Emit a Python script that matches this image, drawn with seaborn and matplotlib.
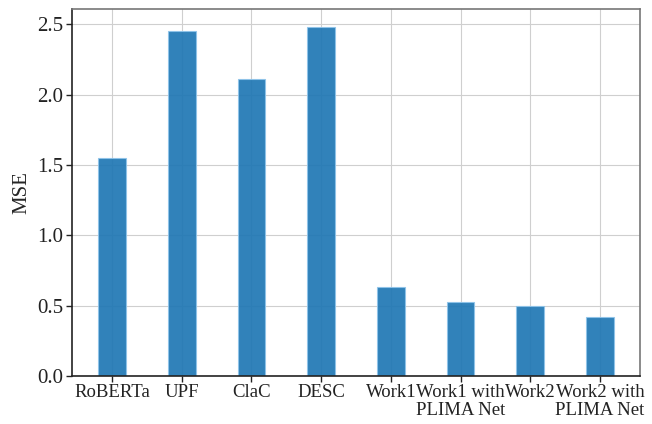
import pandas as pd
import matplotlib
matplotlib.use('Agg')
import matplotlib.pyplot as plt
import seaborn as sns

models = ['RoBERTa', 'UPF', 'ClaC', 'DESC', 'Work1', 'Work1 with\nPLIMA Net',
          'Work2', 'Work2 with\nPLIMA Net']
mse = [1.55, 2.455, 2.115, 2.48, 0.63, 0.53, 0.50, 0.42]

sns.set_theme(style='whitegrid')
plt.rcParams['font.family'] = ['Liberation Serif', 'DejaVu Serif']

df = pd.DataFrame({'model': models, 'mse': mse})

fig, ax = plt.subplots(figsize=(6.52, 4.24), dpi=100)
sns.barplot(data=df, x='model', y='mse', color='#1f77b4', saturation=1,
            width=0.4, alpha=0.92, edgecolor='#8fc4ea', linewidth=0.8, ax=ax)
ax.set_axisbelow(True)
ax.grid(True, color='#cfcfcf', linewidth=0.8)
ax.set_xlim(-0.58, 7.58)
ax.set_ylim(0, 2.61)
ax.set_yticks([0, 0.5, 1.0, 1.5, 2.0, 2.5])
ax.set_xlabel('')
ax.set_ylabel('MSE', fontsize=15)
ax.tick_params(axis='x', labelsize=13.5)
ax.tick_params(axis='y', labelsize=15)
ax.tick_params(axis='both', colors='#222222', length=4, width=1,
               direction='out', bottom=True, left=True, pad=2)
plt.setp(ax.get_xticklabels(), linespacing=1.05)
for side in ['left', 'bottom']:
    ax.spines[side].set_color('#222222')
    ax.spines[side].set_linewidth(1.2)
for side in ['top', 'right']:
    ax.spines[side].set_color('#777777')
    ax.spines[side].set_linewidth(1.2)

fig.subplots_adjust(left=0.11, right=0.982, top=0.979, bottom=0.113)
fig.savefig('out.png', dpi=100)
